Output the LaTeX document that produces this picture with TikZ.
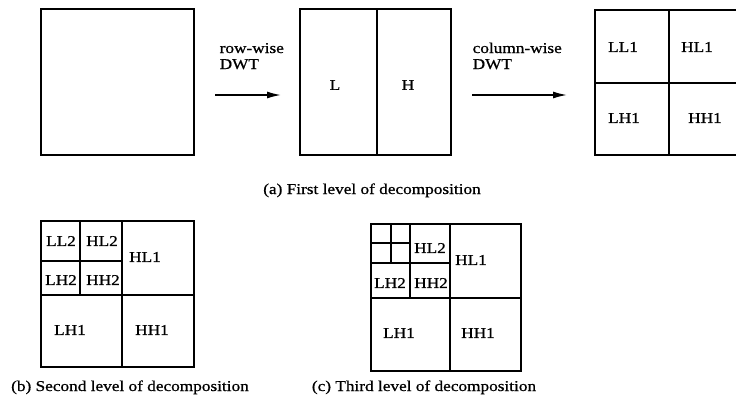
\documentclass[tikz,border=0pt]{standalone}
\usepackage{fontspec}
\setmainfont{Liberation Serif}[FakeStretch=1.15,FakeBold=0.8]
\usetikzlibrary{arrows.meta}

\tikzset{
  band/.style={font=\fontsize{15}{18}\selectfont, inner sep=0pt},
  captxt/.style={font=\fontsize{15}{18}\selectfont, inner sep=0pt, anchor=base},
  dwt/.style={-{Latex[length=14pt,width=7pt]}, line width=1.5pt}
}

\begin{document}
\begin{tikzpicture}[x=1pt,y=-1pt,line width=1.4pt]

   \useasboundingbox (0,0) rectangle (736,397);
   \clip (0,0) rectangle (736,397);

   % (a) first level
   \draw (41,9) rectangle (194,155);

   \draw (300,9) rectangle (451,155);
   \draw (377,9) -- (377,155);
   \node[band] (l) at (335,85) {L};
   \node[band] (h) at (408,85) {H};

   \draw (595,10) rectangle (746,155);
   \draw (669,10) -- (669,155);
   \draw (595,83) -- (746,83);
   \node[band] (ll1a) at (623,47) {LL1};
   \node[band] (hl1a) at (697,47) {HL1};
   \node[band] (lh1a) at (624,118) {LH1};
   \node[band] (hh1a) at (705,118) {HH1};

   \coordinate (rows) at (215,95);
   \coordinate (rowe) at (281,95);
   \coordinate (cols) at (472,95);
   \coordinate (cole) at (567,95);
   \draw[dwt] (rows) -- (rowe);
   \draw[dwt] (cols) -- (cole);
   \node[captxt, anchor=base west, align=left] (rowtxt) at (219,69) {row-wise\\[-2pt]DWT};
   \node[captxt, anchor=base west, align=left] (coltxt) at (472,69) {column-wise\\[-2pt]DWT};

   \node[captxt] (capa) at (372,194) {(a) First level of decomposition};

   % (b) second level
   \draw (41,221) rectangle (194,367);
   \draw (122,221) -- (122,367);
   \draw (41,295) -- (194,295);
   \draw (80,221) -- (80,295);
   \draw (41,261) -- (122,261);
   \node[band] (ll2b) at (61,241) {LL2};
   \node[band] (hl2b) at (102,241) {HL2};
   \node[band] (hl1b) at (145,257) {HL1};
   \node[band] (lh2b) at (61,280) {LH2};
   \node[band] (hh2b) at (103,280) {HH2};
   \node[band] (lh1b) at (70,330) {LH1};
   \node[band] (hh1b) at (152,330) {HH1};

   \node[captxt] (capb) at (130,391) {(b) Second level of decomposition};

   % (c) third level
   \draw (371,224) rectangle (521,371);
   \draw (450,224) -- (450,371);
   \draw (371,298) -- (521,298);
   \draw (410,224) -- (410,298);
   \draw (371,263) -- (450,263);
   \draw (391,224) -- (391,263);
   \draw (371,243) -- (410,243);
   \node[band] (hl2c) at (430,248) {HL2};
   \node[band] (hl1c) at (471,260) {HL1};
   \node[band] (lh2c) at (390,283) {LH2};
   \node[band] (hh2c) at (431,283) {HH2};
   \node[band] (lh1c) at (399,333) {LH1};
   \node[band] (hh1c) at (478,333) {HH1};

   \node[captxt] (capc) at (424,391) {(c) Third level of decomposition};

\end{tikzpicture}
\end{document}
